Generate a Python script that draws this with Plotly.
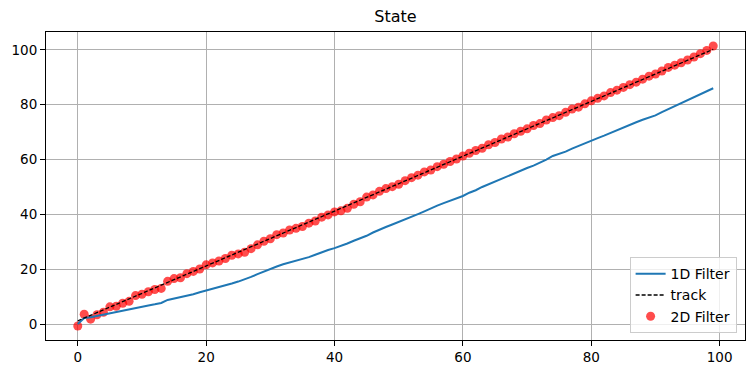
import plotly.graph_objects as go

x_vals = list(range(100))

filter_1d = [0.0, 2.2, 2.5, 3.0, 3.4, 3.8, 4.3, 4.8, 5.3, 5.8,
             6.3, 6.8, 7.2, 7.7, 8.8, 9.3, 9.7, 10.3, 10.9, 11.6,
             12.2, 12.8, 13.4, 14.0, 14.8, 15.5, 16.3, 17.2, 18.2, 19.2,
             20.2, 21.0, 21.8, 22.4, 23.0, 23.7, 24.4, 25.3, 26.2, 27.0,
             27.7, 28.5, 29.4, 30.4, 31.3, 32.2, 33.4, 34.5, 35.4, 36.3,
             37.2, 38.1, 39.1, 40.1, 41.1, 42.2, 43.2, 44.1, 45.0, 45.9,
             46.7, 47.9, 48.8, 50.0, 51.0, 52.0, 53.1, 54.1, 55.1, 56.0,
             56.9, 57.8, 58.8, 60.0, 61.3, 62.0, 62.9, 64.0, 65.0, 66.0,
             66.8, 67.8, 68.7, 69.7, 70.9, 71.8, 72.7, 73.6, 74.5, 75.3,
             76.1, 77.3, 78.4, 79.5, 80.5, 81.6, 82.8, 83.9, 85.1, 86.0]

track = [1.2, 2.2, 3.2, 4.2, 5.2, 6.2, 7.2, 8.2, 9.2, 10.2,
         11.2, 12.2, 13.2, 14.2, 15.2, 16.2, 17.2, 18.2, 19.2, 20.2,
         21.2, 22.2, 23.2, 24.2, 25.2, 26.2, 27.2, 28.2, 29.2, 30.2,
         31.2, 32.2, 33.2, 34.2, 35.2, 36.2, 37.2, 38.2, 39.2, 40.2,
         41.2, 42.2, 43.2, 44.2, 45.2, 46.2, 47.2, 48.2, 49.2, 50.2,
         51.2, 52.2, 53.2, 54.2, 55.2, 56.2, 57.2, 58.2, 59.2, 60.2,
         61.2, 62.2, 63.2, 64.2, 65.2, 66.2, 67.2, 68.2, 69.2, 70.2,
         71.2, 72.2, 73.2, 74.2, 75.2, 76.2, 77.2, 78.2, 79.2, 80.2,
         81.2, 82.2, 83.2, 84.2, 85.2, 86.2, 87.2, 88.2, 89.2, 90.2,
         91.2, 92.2, 93.2, 94.2, 95.2, 96.2, 97.2, 98.2, 99.2, 100.2]

filter_2d = [-0.7, 3.6, 1.8, 3.4, 4.3, 6.3, 6.5, 7.6, 8.3, 10.4,
             10.9, 11.8, 12.6, 13.0, 15.6, 16.6, 16.9, 18.4, 19.2, 20.1,
             21.6, 22.3, 23.0, 23.9, 25.1, 25.6, 26.2, 27.5, 28.9, 30.2,
             31.1, 32.6, 33.2, 34.3, 34.9, 35.6, 36.8, 37.6, 39.0, 39.8,
             40.9, 41.3, 42.2, 43.7, 44.6, 46.3, 47.1, 48.4, 49.4, 50.1,
             51.0, 52.3, 53.4, 54.3, 55.5, 56.2, 57.4, 58.3, 59.3, 60.2,
             61.3, 62.3, 63.3, 64.1, 65.4, 66.2, 67.5, 68.2, 69.4, 70.3,
             71.2, 72.4, 73.1, 74.4, 75.3, 76.0, 77.2, 78.4, 79.1, 80.3,
             81.4, 82.3, 83.2, 84.4, 85.3, 86.3, 87.3, 88.2, 89.3, 90.4,
             91.2, 92.3, 93.6, 94.4, 95.3, 96.3, 97.4, 98.6, 99.8, 101.4]

x_ticks = [0, 20, 40, 60, 80, 100]
y_ticks = [0, 20, 40, 60, 80, 100]

FONT = "DejaVu Sans"

fig = go.Figure()
fig.add_trace(go.Scatter(
    x=x_vals, y=filter_2d, mode="markers", name="2D Filter",
    marker=dict(color="rgba(255,0,0,0.7)", size=9, line=dict(width=0)),
    legendrank=3))
fig.add_trace(go.Scatter(
    x=x_vals, y=filter_1d, mode="lines", name="1D Filter",
    line=dict(color="#1f77b4", width=2), legendrank=1))
fig.add_trace(go.Scatter(
    x=x_vals, y=track, mode="lines", name="track",
    line=dict(color="black", width=1.3, dash="4px,2px"), legendrank=2))

axis_common = dict(
    showgrid=True, gridcolor="#b0b0b0", gridwidth=1, automargin=False,
    zeroline=False, showline=True, linecolor="black", linewidth=1,
    mirror=True, ticks="outside", ticklen=5, tickwidth=1, tickcolor="black",
    tickfont=dict(family=FONT, size=13.5, color="black"),
)

fig.update_layout(
    width=753, height=374,
    margin=dict(l=46, r=8, t=32, b=34, autoexpand=False),
    paper_bgcolor="white", plot_bgcolor="white",
    title=dict(text="State", x=0.5, xref="paper", xanchor="center",
               y=1, yref="container", yanchor="top", pad=dict(t=11),
               font=dict(family=FONT, size=16, color="black")),
    font=dict(family=FONT, size=13, color="black"),
    xaxis=dict(range=[-4.95, 103.95], tickvals=x_ticks, **axis_common),
    yaxis=dict(range=[-5.8, 106.5], tickvals=y_ticks, **axis_common),
    legend=dict(x=0.988, y=0.022, xanchor="right", yanchor="bottom",
                bgcolor="rgba(255,255,255,0.8)", bordercolor="#cccccc",
                borderwidth=1, font=dict(family=FONT, size=14),
                tracegroupgap=0, itemwidth=30),
    showlegend=True,
)

fig.write_html("out.html", config={"displayModeBar": False},
               post_script="document.body.style.margin='0px';document.body.style.padding='0px';")
